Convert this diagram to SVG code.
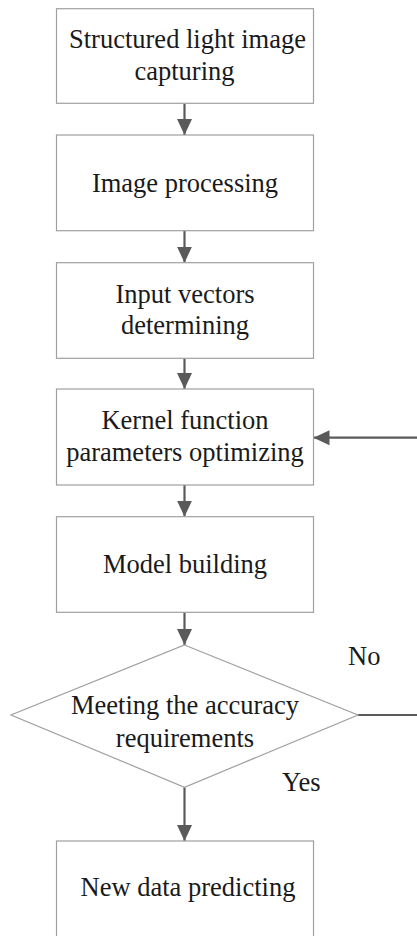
<svg xmlns="http://www.w3.org/2000/svg" width="417" height="936" viewBox="0 0 417 936">
  <style>
    .box { fill: #ffffff; stroke: #a0a0a0; stroke-width: 1.2; }
    .lbl { font-family: "Liberation Serif", "Times New Roman", serif; font-size: 26.5px; fill: #1a1a1a; text-anchor: middle; }
    .tag { font-family: "Liberation Serif", "Times New Roman", serif; font-size: 26.5px; fill: #1a1a1a; }
    .edge { fill: none; stroke: #5a5a5a; stroke-width: 2.2; }
  </style>
  <defs>
    <marker id="arrow" markerUnits="userSpaceOnUse" markerWidth="16" markerHeight="16" viewBox="0 0 16 16" refX="16" refY="8" orient="auto">
      <path d="M0,0.5 L16,8 L0,15.5 Z" fill="#5a5a5a"/>
    </marker>
  </defs>
  <rect width="417" height="936" fill="#ffffff"/>

  <g id="connectors">
    <line class="edge" x1="184.5" y1="103.5" x2="184.5" y2="135" marker-end="url(#arrow)"/>
    <line class="edge" x1="184.5" y1="230.7" x2="184.5" y2="262.7" marker-end="url(#arrow)"/>
    <line class="edge" x1="184.5" y1="358.3" x2="184.5" y2="389" marker-end="url(#arrow)"/>
    <line class="edge" x1="184.5" y1="485" x2="184.5" y2="516.7" marker-end="url(#arrow)"/>
    <line class="edge" x1="184.5" y1="612.3" x2="184.5" y2="645" marker-end="url(#arrow)"/>
    <line class="edge" x1="184.5" y1="787.3" x2="184.5" y2="841" marker-end="url(#arrow)"/>
    <line class="edge" x1="358" y1="715" x2="417" y2="715"/>
    <line class="edge" x1="417" y1="437.7" x2="313.5" y2="437.7" marker-end="url(#arrow)"/>
    <text class="tag" x="348" y="665">No</text>
    <text class="tag" x="282" y="790.7">Yes</text>
  </g>

  <g id="capture">
    <rect class="box" x="56.5" y="8.7" width="257" height="94.6"/>
    <text class="lbl" x="187.5" y="48.3">Structured light image</text>
    <text class="lbl" x="184.5" y="80">capturing</text>
  </g>

  <g id="processing">
    <rect class="box" x="56.5" y="135" width="257" height="95.7"/>
    <text class="lbl" x="185" y="191.7">Image processing</text>
  </g>

  <g id="vectors">
    <rect class="box" x="56.5" y="262.7" width="257" height="95.6"/>
    <text class="lbl" x="185" y="302.7">Input vectors</text>
    <text class="lbl" x="185" y="334.3">determining</text>
  </g>

  <g id="kernel">
    <rect class="box" x="56.5" y="389" width="257" height="96"/>
    <text class="lbl" x="185" y="429">Kernel function</text>
    <text class="lbl" x="185" y="460.7">parameters optimizing</text>
  </g>

  <g id="model">
    <rect class="box" x="56.5" y="516.7" width="257" height="95.6"/>
    <text class="lbl" x="185" y="572.7">Model building</text>
  </g>

  <g id="accuracy">
    <polygon class="box" points="184.5,645 358,715 184.5,787.3 11,715"/>
    <text class="lbl" x="185" y="714">Meeting the accuracy</text>
    <text class="lbl" x="185" y="746.7">requirements</text>
  </g>

  <g id="predicting">
    <rect class="box" x="56.5" y="841" width="257" height="100"/>
    <text class="lbl" x="188" y="896">New data predicting</text>
  </g>
</svg>
